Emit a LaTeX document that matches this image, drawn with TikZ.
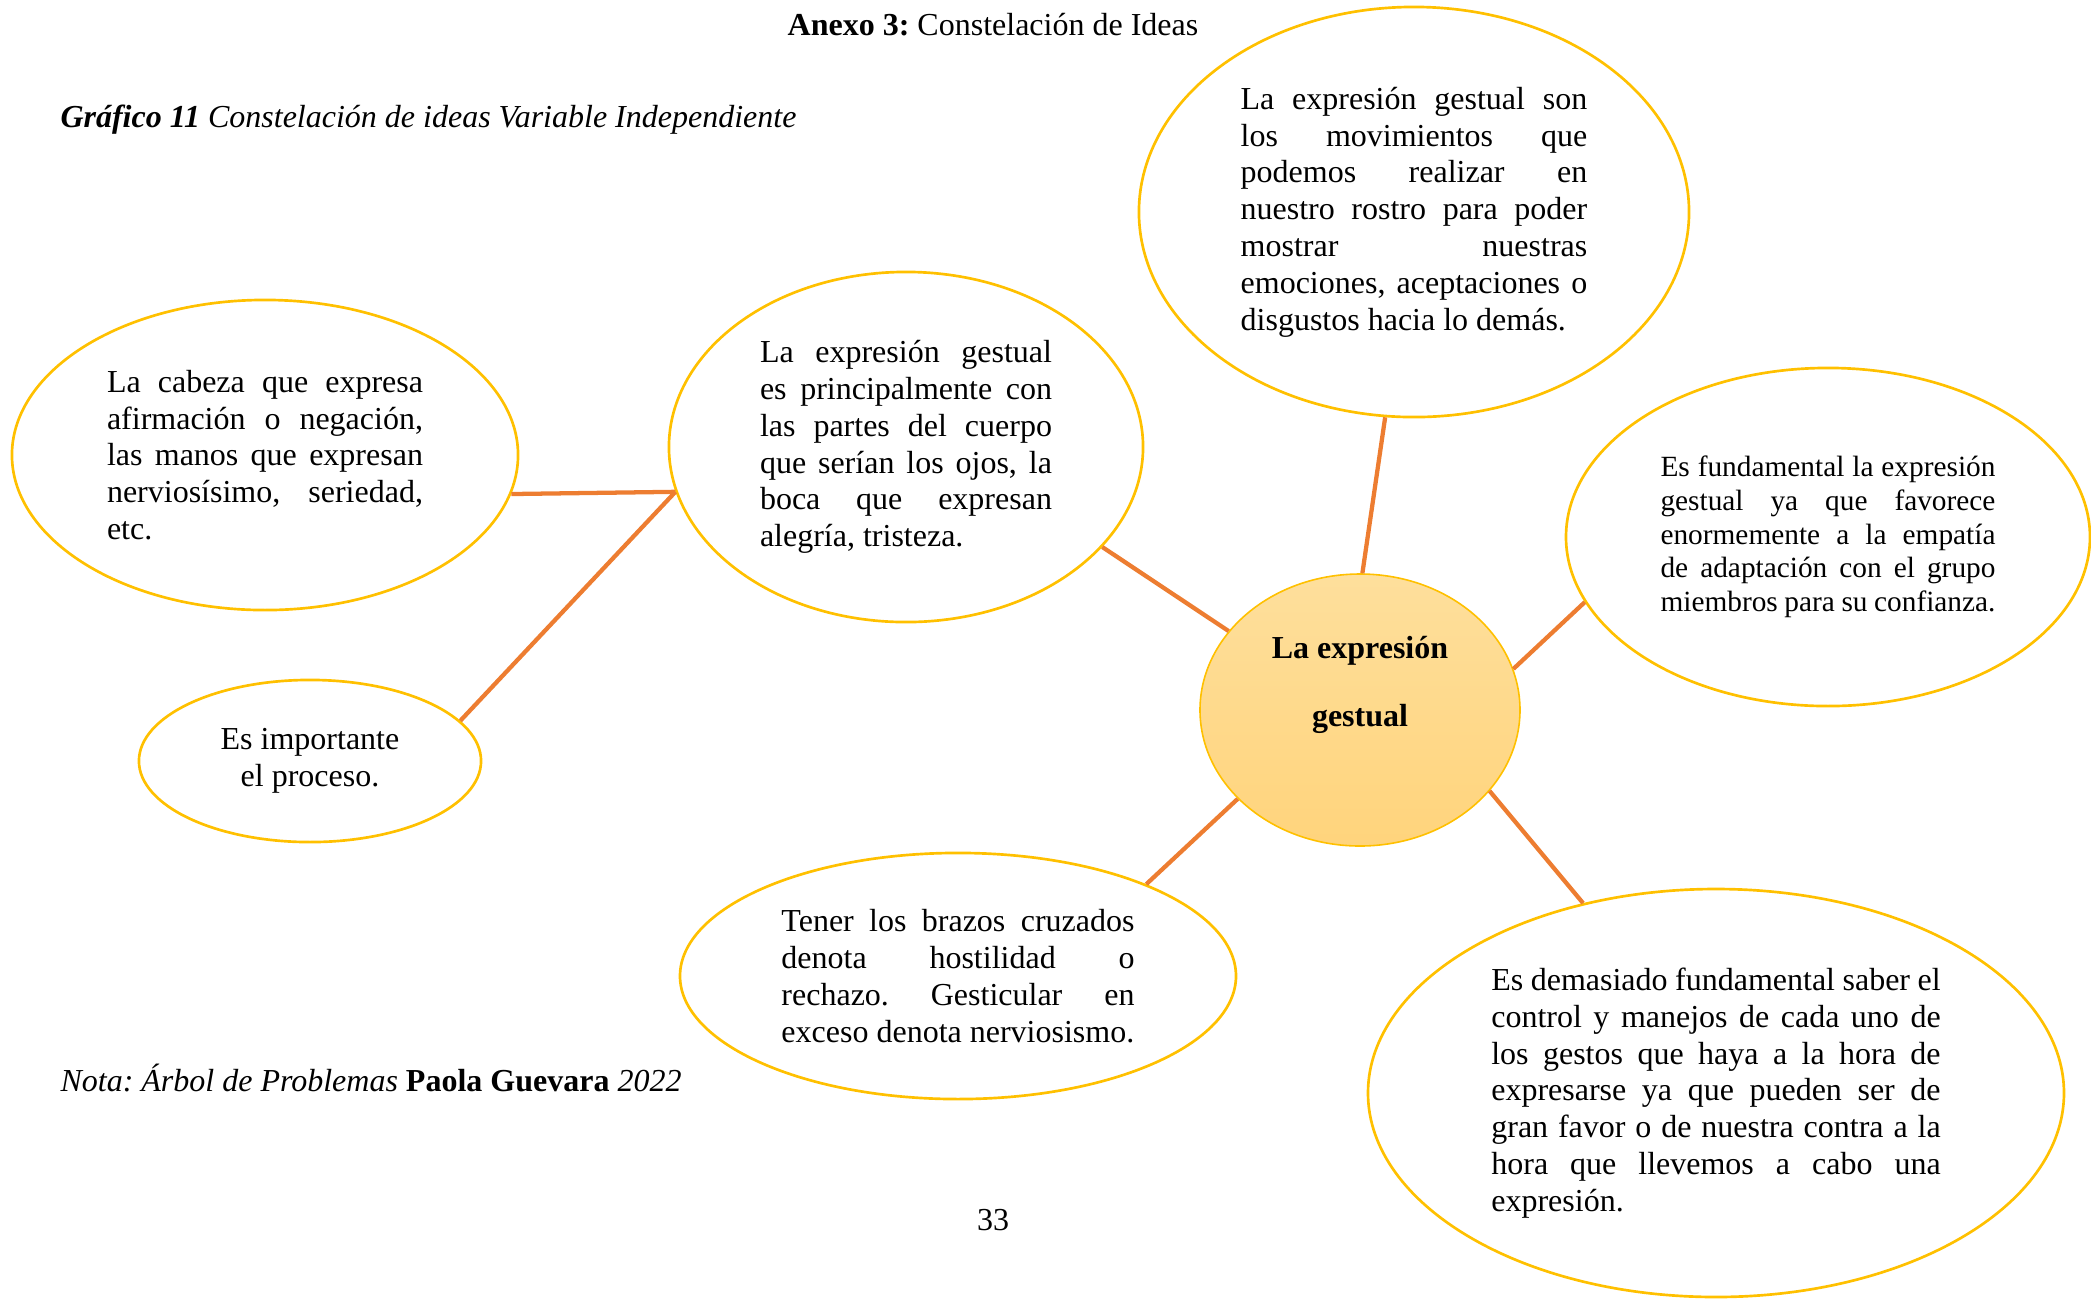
\documentclass[tikz,border=0pt]{standalone}
\usepackage{fontspec}
\setmainfont{Liberation Serif}
\usetikzlibrary{shapes.geometric}

\definecolor{gold}{HTML}{FFC000}
\definecolor{linkorange}{HTML}{ED7D31}
\definecolor{hubtop}{HTML}{FEDF9C}
\definecolor{hubbottom}{HTML}{FFD47C}
\newcommand{\bodysize}{\fontsize{12}{13.8}\selectfont\frenchspacing\hyphenpenalty=10000\exhyphenpenalty=10000\tolerance=9999\relax}
\newcommand{\smallbody}{\fontsize{11}{12.65}\selectfont\frenchspacing\hyphenpenalty=10000\exhyphenpenalty=10000\tolerance=9999\relax}

\begin{document}
\frenchspacing
\begin{tikzpicture}[
  x=0.375pt, y=-0.375pt,
  idea/.style={ellipse, draw=gold, line width=1pt, inner sep=0pt, align=justify, font=\bodysize},
  hub/.style={ellipse, draw=gold, line width=0.6pt, top color=hubtop, bottom color=hubbottom,
              minimum width=120pt, minimum height=102pt},
  hubtext/.style={align=center, inner sep=0pt, font=\fontsize{12}{25.5}\selectfont\bfseries},
  link/.style={linkorange, line width=1.6pt},
  plain/.style={inner sep=0pt, font=\bodysize}
]
\useasboundingbox (0,0) rectangle (2091,1299);

% page texts
\node[plain] (title) at (993,25) {\textbf{Anexo 3:} Constelación de Ideas};
\node[plain, anchor=west] (caption) at (60,120) {\textbf{\textit{Gráfico 11}} \textit{Constelación de ideas Variable Independiente}};
\node[plain, anchor=west] (note) at (60,1078) {\textit{Nota: Árbol de Problemas} \textbf{Paola Guevara} \textit{2022}};
\node[plain] (pagenum) at (993,1220) {33};

% ideas
\node[idea, minimum width=206.3pt, minimum height=153.8pt, text width=130pt] (expr) at (1414,212)
  {La expresión gestual son\linebreak los movimientos que\linebreak podemos realizar en\linebreak nuestro rostro para poder\linebreak mostrar nuestras\linebreak emociones, aceptaciones o\linebreak disgustos hacia lo demás.};
\node[idea, minimum width=189.8pt, minimum height=116.3pt, text width=118.5pt] (head) at (265,455)
  {La cabeza que expresa\linebreak afirmación o negación,\linebreak las manos que expresan\linebreak nerviosísimo, seriedad,\linebreak etc.};
\node[idea, minimum width=177.8pt, minimum height=131.3pt, text width=109.5pt] (body) at (906,447)
  {La expresión gestual\linebreak es principalmente con\linebreak las partes del cuerpo\linebreak que serían los ojos, la\linebreak boca que expresan\linebreak alegría, tristeza.};
\node[idea, font=\smallbody, minimum width=196.5pt, minimum height=126.8pt, text width=125.6pt] (trust) at (1828,537)
  {Es fundamental la expresión\linebreak gestual ya que favorece\linebreak enormemente a la empatía\linebreak de adaptación con el grupo\linebreak miembros para su confianza.};
\node[idea, align=center, minimum width=128.3pt, minimum height=60.8pt] (process) at (310,761)
  {Es importante\\ el proceso.};
\node[idea, minimum width=208.5pt, minimum height=92.3pt, text width=132.4pt] (arms) at (958,976)
  {Tener los brazos cruzados\linebreak denota hostilidad o\linebreak rechazo. Gesticular en\linebreak exceso denota nerviosismo.};
\node[idea, minimum width=261pt, minimum height=153pt, text width=168.5pt] (control) at (1716,1093)
  {Es demasiado fundamental saber el\linebreak control y manejos de cada uno de\linebreak los gestos que haya a la hora de\linebreak expresarse ya que pueden ser de\linebreak gran favor o de nuestra contra a la\linebreak hora que llevemos a cabo una\linebreak expresión.};

% centre
\node[hub] (hub) at (1360,710) {};
\node[hubtext] (hublabel) at (1360,685) {La expresión\\ gestual};

% links
\draw[link] (head.-9.5) -- (body.191);
\draw[link] (process.15) -- (body.191);
\draw[link] (body.-27) -- (hub.149);
\draw[link] (expr.262) -- (hub.89);
\draw[link] (hub.15) -- (trust.195);
\draw[link] (hub.216) -- (arms.26);
\draw[link] (hub.-32) -- (control.125);
\end{tikzpicture}
\end{document}
